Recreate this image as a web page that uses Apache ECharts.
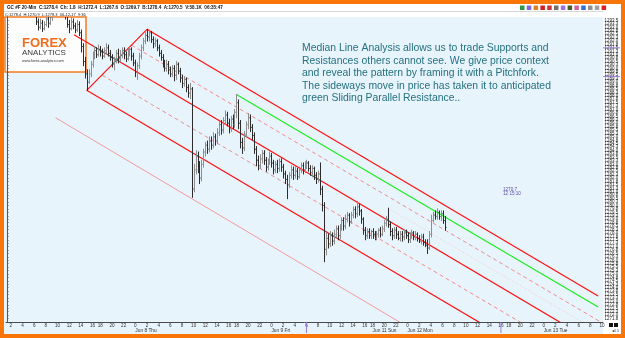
<!DOCTYPE html>
<html>
<head>
<meta charset="utf-8">
<script src="https://cdn.jsdelivr.net/npm/echarts@6/dist/echarts.min.js"></script>
<style>
html, body { margin: 0; padding: 0; background: #fff; }
#chart { width: 625px; height: 338px; }
</style>
</head>
<body>
<div id="chart"></div>
<script>
// 20-min sessions, weekend skipped
const sessions = [
  ['2017-06-07 01:20', '2017-06-07 17:00'],
  ['2017-06-07 18:00', '2017-06-08 17:00'],
  ['2017-06-08 18:00', '2017-06-09 17:00'],
  ['2017-06-11 18:00', '2017-06-12 17:00'],
  ['2017-06-12 18:00', '2017-06-13 10:00']
]
const dateLabels = {
  '06-08 00:00': 'Jun 8 Thu',
  '06-09 00:00': 'Jun 9 Fri',
  '06-11 18:00': 'Jun 11 Sun',
  '06-12 00:00': 'Jun 12 Mon',
  '06-13 00:00': 'Jun 13 Tue'
}

// [open, close, low, high]
const ohlc = [
  [1294.6,1294.9,1294.3,1295.1],[1294.9,1295.2,1294.7,1295.4],[1295.2,1294.8,1294.6,1295.3],[1294.8,1294.5,1294.3,1295.0],[1294.5,1294.7,1294.2,1294.9],
  [1294.7,1295.1,1294.6,1295.3],[1295.1,1295.4,1294.9,1295.6],[1295.4,1295.0,1294.8,1295.6],[1295.0,1294.6,1294.4,1295.1],[1294.6,1294.8,1294.4,1295.0],
  [1294.8,1294.5,1294.2,1294.9],[1294.5,1294.2,1294.0,1294.7],[1294.2,1294.4,1294.0,1294.6],[1294.4,1294.1,1293.9,1294.5],[1294.1,1293.9,1293.8,1294.3],
  [1293.9,1293.4,1293.2,1294.1],[1293.4,1293.0,1292.8,1293.6],[1293.0,1293.3,1292.9,1293.6],[1293.3,1292.9,1292.7,1293.5],[1292.9,1293.2,1292.8,1293.4],
  [1293.2,1293.6,1293.1,1293.9],[1293.6,1293.3,1293.0,1293.8],[1293.3,1293.7,1293.2,1294.0],[1293.7,1294.1,1293.5,1294.3],[1294.1,1294.4,1293.9,1294.6],
  [1294.4,1294.2,1294.0,1294.7],[1294.2,1294.5,1294.0,1294.8],[1294.5,1294.3,1294.1,1294.7],[1294.3,1294.0,1293.9,1294.5],[1294.0,1294.2,1293.85,1294.4],
  [1294.2,1293.8,1293.6,1294.3],[1293.8,1293.2,1293.0,1294.0],[1293.2,1292.9,1292.6,1293.5],[1292.9,1293.4,1292.8,1293.7],[1293.4,1293.1,1292.9,1293.6],
  [1293.1,1292.8,1292.6,1293.3],[1292.8,1293.2,1292.7,1293.5],[1293.2,1292.6,1292.4,1293.4],[1292.6,1291.6,1291.2,1292.8],[1291.6,1290.5,1290.2,1291.8],
  [1290.5,1289.6,1289.3,1290.8],[1289.6,1289.0,1288.4,1289.9],[1289.0,1289.6,1288.9,1289.9],[1289.6,1290.3,1289.4,1290.5],[1290.3,1290.9,1290.1,1291.2],
  [1290.9,1291.3,1290.7,1291.6],[1291.3,1291.0,1290.8,1291.5],[1291.0,1291.4,1290.9,1291.7],[1291.4,1291.2,1290.9,1291.6],[1291.2,1290.9,1290.7,1291.4],
  [1290.9,1291.3,1290.8,1291.5],[1291.3,1291.5,1291.1,1291.8],[1291.5,1291.1,1290.9,1291.7],[1291.1,1290.8,1290.6,1291.3],[1290.8,1290.3,1290.1,1291.0],
  [1290.3,1290.6,1289.9,1290.8],[1290.6,1291.1,1290.4,1291.3],[1291.1,1290.7,1290.4,1291.4],[1290.7,1291.0,1290.5,1291.3],[1291.0,1291.3,1290.8,1291.5],
  [1291.3,1291.0,1290.7,1291.5],[1291.0,1290.7,1290.5,1291.2],[1290.7,1291.1,1290.6,1291.4],[1291.1,1291.4,1290.9,1291.6],[1291.4,1290.9,1290.6,1291.5],
  [1290.9,1290.4,1290.2,1291.1],[1290.4,1289.7,1289.4,1290.6],[1289.7,1290.2,1289.2,1290.4],[1290.2,1290.9,1290.0,1291.1],[1290.9,1291.5,1290.7,1291.7],
  [1291.5,1292.0,1291.3,1292.2],[1292.0,1292.4,1291.8,1292.6],[1292.4,1292.3,1292.0,1292.85],[1292.3,1292.6,1292.0,1292.8],[1292.6,1292.1,1291.9,1292.7],
  [1292.1,1291.8,1291.5,1292.3],[1291.8,1292.0,1291.6,1292.2],[1292.0,1291.5,1291.3,1292.1],[1291.5,1291.1,1290.9,1291.7],[1291.1,1290.8,1290.6,1291.3],
  [1290.8,1290.4,1290.1,1291.0],[1290.4,1290.0,1289.8,1290.6],[1290.0,1290.3,1289.8,1290.6],[1290.3,1289.9,1289.6,1290.5],[1289.9,1289.6,1289.4,1290.1],
  [1289.6,1290.0,1289.4,1290.2],[1290.0,1289.5,1289.1,1290.2],[1289.5,1290.3,1289.2,1290.5],[1290.3,1289.8,1289.6,1290.4],[1289.8,1289.3,1289.0,1290.0],
  [1289.3,1288.9,1288.6,1289.5],[1288.9,1289.2,1288.7,1289.4],[1289.2,1288.6,1288.3,1289.3],[1288.6,1288.2,1287.9,1288.8],[1288.2,1288.5,1287.8,1288.9],
  [1288.5,1281.2,1280.6,1288.6],[1281.2,1282.6,1281.0,1283.0],[1282.6,1283.6,1282.3,1284.0],[1283.6,1282.9,1282.4,1283.9],[1282.9,1282.0,1281.6,1283.2],
  [1282.0,1283.0,1281.8,1283.3],[1283.0,1283.9,1282.8,1284.1],[1283.9,1284.4,1283.6,1284.6],[1284.4,1284.1,1283.8,1284.7],[1284.1,1284.7,1283.9,1285.0],
  [1284.7,1284.4,1284.1,1285.0],[1284.4,1285.0,1284.2,1285.3],[1285.0,1284.7,1284.4,1285.2],[1284.7,1285.3,1284.5,1285.6],[1285.3,1285.9,1285.1,1286.1],
  [1285.9,1285.5,1285.2,1286.2],[1285.5,1286.2,1285.3,1286.4],[1286.2,1286.6,1285.9,1286.9],[1286.6,1286.0,1285.8,1286.8],[1286.0,1285.6,1285.3,1286.3],
  [1285.6,1286.3,1285.4,1286.5],[1286.3,1285.9,1285.6,1286.6],[1285.9,1286.8,1285.7,1287.0],[1286.8,1287.5,1286.4,1288.1],[1287.5,1286.0,1285.6,1287.7],
  [1286.0,1284.6,1284.2,1286.2],[1284.6,1284.2,1283.8,1284.9],[1284.2,1285.2,1284.0,1285.4],[1285.2,1285.9,1285.0,1286.1],[1285.9,1286.4,1285.6,1286.7],
  [1286.4,1285.7,1285.4,1286.6],[1285.7,1285.1,1284.8,1285.9],[1285.1,1284.1,1283.8,1285.3],[1284.1,1283.3,1282.9,1284.3],[1283.3,1282.9,1282.6,1283.6],
  [1282.9,1283.4,1282.7,1283.7],[1283.4,1283.8,1283.1,1284.0],[1283.8,1283.3,1283.0,1284.0],[1283.3,1282.8,1282.5,1283.5],[1282.8,1283.2,1282.6,1283.4],
  [1283.2,1283.6,1283.0,1283.9],[1283.6,1283.1,1282.8,1283.8],[1283.1,1282.6,1282.3,1283.3],[1282.6,1283.0,1282.4,1283.2],[1283.0,1282.7,1282.4,1283.3],
  [1282.7,1283.2,1282.5,1283.4],[1283.2,1282.8,1282.5,1283.4],[1282.8,1282.3,1282.0,1283.0],[1282.3,1281.9,1281.6,1282.5],[1281.9,1281.5,1280.5,1282.2],
  [1281.5,1282.2,1281.3,1282.4],[1282.2,1282.6,1282.0,1282.9],[1282.6,1282.2,1281.9,1282.8],[1282.2,1282.5,1282.0,1282.8],[1282.5,1282.1,1281.9,1282.7],
  [1282.1,1282.6,1282.0,1282.8],[1282.6,1282.9,1282.4,1283.1],[1282.9,1282.6,1282.3,1283.1],[1282.6,1282.9,1282.4,1283.2],[1282.9,1283.1,1282.7,1283.3],
  [1283.1,1282.7,1282.5,1283.2],[1282.7,1282.4,1282.2,1282.9],[1282.4,1282.7,1282.1,1282.9],[1282.7,1282.2,1281.9,1282.8],[1282.2,1281.9,1281.6,1282.4],
  [1281.9,1282.3,1281.7,1282.5],[1282.3,1281.2,1280.8,1283.1],[1281.2,1280.0,1279.6,1281.4],[1280.0,1276.8,1275.9,1280.2],[1276.8,1277.6,1276.4,1278.0],
  [1277.6,1277.2,1276.9,1277.9],[1277.2,1277.8,1277.0,1278.1],[1277.8,1277.4,1277.1,1278.0],[1277.4,1277.9,1277.2,1278.2],[1277.9,1278.3,1277.7,1278.5],
  [1278.3,1277.8,1277.5,1278.5],[1277.8,1278.4,1277.6,1278.6],[1278.4,1278.9,1278.2,1279.1],[1278.9,1278.5,1278.2,1279.1],[1278.5,1279.0,1278.3,1279.3],
  [1279.0,1279.3,1278.8,1279.5],[1279.3,1278.8,1278.5,1279.4],[1278.8,1279.3,1278.7,1279.5],[1279.3,1279.7,1279.1,1279.9],[1279.7,1279.4,1279.1,1279.9],
  [1279.4,1279.9,1279.2,1280.3],[1279.9,1279.6,1279.3,1280.1],[1279.6,1279.0,1278.7,1279.7],[1279.0,1278.2,1277.9,1279.1],[1278.2,1277.8,1277.5,1278.4],
  [1277.8,1278.1,1277.6,1278.3],[1278.1,1277.8,1277.6,1278.3],[1277.8,1278.1,1277.6,1278.2],[1278.1,1277.9,1277.6,1278.3],[1277.9,1277.6,1277.5,1278.1],
  [1277.6,1277.9,1277.5,1278.1],[1277.9,1278.2,1277.7,1278.3],[1278.2,1277.9,1277.7,1278.4],[1277.9,1278.3,1277.8,1278.5],[1278.3,1278.7,1278.1,1278.9],
  [1278.7,1279.0,1278.5,1279.2],[1279.0,1278.6,1278.4,1279.8],[1278.6,1278.1,1277.8,1278.8],[1278.1,1277.8,1277.5,1278.3],[1277.8,1278.2,1277.6,1278.4],
  [1278.2,1277.9,1277.6,1278.4],[1277.9,1277.6,1277.5,1278.1],[1277.6,1277.9,1277.4,1278.1],[1277.9,1277.7,1277.4,1278.1],[1277.7,1278.0,1277.5,1278.2],
  [1278.0,1277.8,1277.6,1278.2],[1277.8,1277.5,1277.3,1278.0],[1277.5,1277.8,1277.3,1278.0],[1277.8,1278.0,1277.6,1278.2],[1278.0,1277.7,1277.5,1278.1],
  [1277.7,1277.9,1277.5,1278.1],[1277.9,1277.6,1277.4,1278.0],[1277.6,1277.4,1277.3,1277.8],[1277.4,1277.7,1277.2,1277.9],[1277.7,1277.3,1277.1,1277.9],
  [1277.3,1277.1,1277.0,1277.5],[1277.1,1276.9,1276.5,1277.5],[1276.9,1277.9,1276.8,1278.1],[1277.9,1278.9,1277.7,1279.3],[1278.9,1279.3,1278.8,1279.5],
  [1279.3,1279.2,1279.0,1279.6],[1279.2,1279.5,1279.0,1279.75],[1279.5,1279.2,1279.0,1279.6],[1279.2,1279.4,1278.9,1279.6],[1279.4,1278.9,1278.7,1279.6],
  [1278.9,1278.4,1278.2,1279.2]
]

// pitchfork drawing: [bar index, price] end points
const handleLine = [[41, 1288.4], [72, 1292.85]]
const medianLine = [[34.5, 1292.45], [286, 1271.35]]
const upperLine = [[72, 1292.85], [304, 1273.4]]
const lowerLine = [[41, 1288.4], [245, 1271.3]]
const upperQuarter = [[64, 1291.7], [306.5, 1271.4]]
const lowerQuarter = [[49, 1289.5], [265, 1271.4]]
const lowerWarning = [[25, 1286.4], [203, 1271.4]]
const slidingLine = [[196, 1279.8], [297, 1271.4]]
const greenParallel = [[118, 1288.1], [304, 1272.6]]

const priceMin = 1271.5
const priceMax = 1293.75
const priceStep = 0.25
const markTimes = ['06-09 06:00', '06-12 16:00']
const markPrices = [1291.5, 1289.4]

const noteText = 'Median Line Analysis allows us to trade Supports and\nResistances others cannot see. We give price context\nand reveal the pattern by framing it with a Pitchfork.\nThe sideways move in price has taken it to anticipated\ngreen Sliding Parallel Resistance..'

const pad = n => String(n).padStart(2, '0')
const parseTime = s => {
  const [d, t] = s.split(' ')
  const [Y, M, D] = d.split('-').map(Number)
  const [h, m] = t.split(':').map(Number)
  return Date.UTC(Y, M - 1, D, h, m)
}
const categories = []
sessions.forEach(([from, to]) => {
  for (let t = parseTime(from); t <= parseTime(to); t += 20 * 60000) {
    const d = new Date(t)
    categories.push(`${pad(d.getUTCMonth() + 1)}-${pad(d.getUTCDate())} ${pad(d.getUTCHours())}:${pad(d.getUTCMinutes())}`)
  }
})
const lastClose = ohlc[ohlc.length - 1][1]

const isHourTick = (i, v) => v.slice(9) === '00' && Number(v.slice(6, 8)) % 2 === 0
const isDateTick = (i, v) => v in dateLabels

const chart = echarts.init(document.getElementById('chart'))

const lineSeries = (data, color, type, width = 1) => ({
  type: 'line', xAxisIndex: 2, yAxisIndex: 0, data,
  symbol: 'none', silent: true, clip: true, z: 3,
  lineStyle: { color, type, width }
})

const option = {
  animation: false,
  backgroundColor: '#e7f4fc',
  textStyle: { fontFamily: 'Liberation Sans' },
  grid: { left: 6, right: 22, top: 17, bottom: 16 },
  xAxis: [
    {
      type: 'category', data: categories, z: 10,
      axisLine: { lineStyle: { color: '#4a4a4a', width: 1 } },
      axisTick: { interval: isHourTick, alignWithLabel: true, length: 2, lineStyle: { color: '#4a4a4a' } },
      axisLabel: { interval: isHourTick, formatter: v => String(Number(v.slice(6, 8))), fontSize: 4.6, color: '#333', margin: 1.5 },
      splitLine: { show: false }
    },
    {
      type: 'category', data: categories, position: 'bottom', z: 10,
      axisLine: { show: false }, axisTick: { show: false },
      axisLabel: { interval: isDateTick, formatter: v => dateLabels[v], align: 'left', fontSize: 4.8, color: '#333', margin: 6 }
    },
    { type: 'value', min: -0.5, max: categories.length - 0.5, show: false }
  ],
  yAxis: {
    type: 'value', position: 'right', min: priceMin, max: priceMax, interval: priceStep, z: 10,
    axisLine: { show: true, lineStyle: { color: '#555' } },
    axisTick: { show: true, length: 1.5, lineStyle: { color: '#555' } },
    axisLabel: { fontSize: 4.5, color: '#222', margin: 1.5, formatter: v => v.toFixed(1) },
    splitLine: { show: false }
  },
  series: [
    {
      type: 'custom', name: 'GC #F', xAxisIndex: 0, yAxisIndex: 0, z: 4,
      data: ohlc.map((b, i) => [i, b[0], b[1], b[2], b[3]]),
      encode: { x: 0, y: [1, 2, 3, 4] },
      clip: true,
      renderItem: (params, api) => {
        const i = api.value(0)
        const o = api.coord([i, api.value(1)])
        const c = api.coord([i, api.value(2)])
        const l = api.coord([i, api.value(3)])
        const h = api.coord([i, api.value(4)])
        const x = Math.round(o[0]) + 0.5
        const stroke = api.value(2) >= api.value(1) ? '#8e8e8e' : '#2c2c2c'
        const style = { stroke, lineWidth: 1 }
        return {
          type: 'group',
          children: [
            { type: 'line', shape: { x1: x, y1: h[1] - 0.5, x2: x, y2: l[1] + 0.5 }, style },
            { type: 'line', shape: { x1: x - 1, y1: o[1], x2: x, y2: o[1] }, style },
            { type: 'line', shape: { x1: x, y1: c[1], x2: x + 1, y2: c[1] }, style }
          ]
        }
      },
      markLine: {
        silent: true, symbol: 'none', animation: false,
        lineStyle: { opacity: 0 },
        label: {
          position: 'end', distance: -3,
          formatter: '{a|◀}{b|' + lastClose.toFixed(1) + '}',
          rich: {
            a: { color: '#000', fontSize: 4 },
            b: { color: '#fff', backgroundColor: '#000', fontSize: 4.6, padding: [1, 1, 0, 1] }
          }
        },
        data: [{ yAxis: lastClose }]
      }
    },
    lineSeries(lowerWarning, '#f29a9a', 'solid'),
    lineSeries(lowerQuarter, '#f28a8a', [4, 3]),
    lineSeries(upperQuarter, '#f28a8a', [4, 3]),
    lineSeries(slidingLine, '#f4c4c4', [1, 2]),
    lineSeries(handleLine, '#ff1010', 'solid', 1.2),
    lineSeries(medianLine, '#ff1010', 'solid', 1.2),
    lineSeries(upperLine, '#ff1010', 'solid', 1.2),
    lineSeries(lowerLine, '#ff1010', 'solid', 1.2),
    lineSeries(greenParallel, '#1eec1e', 'solid', 1.2),
    {
      type: 'custom', xAxisIndex: 0, yAxisIndex: 0, clip: false, silent: true, z: 11,
      data: markTimes.map(t => [categories.indexOf(t), priceMin]),
      renderItem: (params, api) => {
        const p = api.coord([api.value(0), api.value(1)])
        return { type: 'line', shape: { x1: p[0], y1: p[1], x2: p[0], y2: p[1] + 11 }, style: { stroke: '#9a7ad8', lineWidth: 1 } }
      }
    },
    {
      type: 'custom', xAxisIndex: 0, yAxisIndex: 0, clip: false, silent: true, z: 11,
      data: markPrices.map(p => [0, p]),
      renderItem: (params, api) => {
        const p = api.coord([api.value(0), api.value(1)])
        const r = params.coordSys.x + params.coordSys.width
        return { type: 'line', shape: { x1: r, y1: p[1], x2: r + 17, y2: p[1] }, style: { stroke: '#9a7ad8', lineWidth: 1 } }
      }
    }
  ],
  graphic: [
    // white title bar and price column
    { type: 'rect', z: 0, silent: true, shape: { x: 4, y: 4, width: 617, height: 13 }, style: { fill: '#fff' } },
    { type: 'line', z: 0, silent: true, shape: { x1: 4, y1: 11.5, x2: 621, y2: 11.5 }, style: { stroke: '#d8d8d8', lineWidth: 1 } },
    { type: 'rect', z: 0, silent: true, shape: { x: 603, y: 4, width: 18, height: 330 }, style: { fill: '#fff' } },
    { type: 'text', z: 20, silent: true, style: { text: 'GC #F 20-Min  C:1278.4  Ch: 1.8  H:1272.4  L:1267.6  O:1269.7  B:1278.4  A:1270.5  V:58.1K  06:35:47', x: 7, y: 8, font: 'bold 4.6px Liberation Sans', fill: '#111', verticalAlign: 'middle', textVerticalAlign: 'middle' } },
    { type: 'text', z: 20, silent: true, style: { text: 'C:1278.4  H:1270.9  L:1278.3  06-12-17  9:36', x: 5, y: 14.5, font: '4px Liberation Sans', fill: '#222', verticalAlign: 'middle', textVerticalAlign: 'middle' } },
    // toolbar icons
    ...['#2a9a4a', '#7a6ae0', '#e08020', '#d02020', '#d03030', '#707070', '#a070e0', '#406030', '#d060a0', '#3070d0', '#909090', '#a0a0a0', '#e02020'].map((c, k) => ({
      type: 'rect', z: 20, silent: true, shape: { x: 520 + k * 6.8, y: 5.5, width: 4.5, height: 4.5 }, style: { fill: c }
    })),
    // logo
    { type: 'rect', z: 1, silent: true, shape: { x: 5, y: 17, width: 81, height: 55 }, style: { fill: '#fdfdfd', stroke: '#f47a20', lineWidth: 1.5 } },
    { type: 'text', z: 1, silent: true, style: { text: 'FOREX', x: 22, y: 43, font: 'bold 13px Liberation Sans', fill: '#f26c1c', verticalAlign: 'middle', textVerticalAlign: 'middle' } },
    { type: 'text', z: 1, silent: true, style: { text: 'ANALYTICS', x: 22, y: 52.5, font: '8px Liberation Sans', fill: '#3a3a3a', verticalAlign: 'middle', textVerticalAlign: 'middle' } },
    { type: 'text', z: 1, silent: true, style: { text: 'www.forex-analytics.com', x: 22, y: 60.5, font: '3.8px Liberation Sans', fill: '#333', verticalAlign: 'middle', textVerticalAlign: 'middle' } },
    // annotation
    { type: 'text', z: 20, silent: true, style: { text: noteText, x: 302, y: 42, font: '10.4px Liberation Sans', lineHeight: 12.5, fill: '#24707e', verticalAlign: 'top', textVerticalAlign: 'top' } },
    { type: 'text', z: 20, silent: true, style: { text: '1270.7\n12 15:10', x: 503, y: 187, font: '4.6px Liberation Sans', lineHeight: 4.6, fill: '#5a4aa8', verticalAlign: 'top', textVerticalAlign: 'top' } },
    // bottom-right buttons
    { type: 'rect', z: 20, silent: true, shape: { x: 609, y: 323, width: 4, height: 4 }, style: { fill: '#111' } },
    { type: 'rect', z: 20, silent: true, shape: { x: 614, y: 323, width: 4, height: 4 }, style: { fill: '#111' } },
    { type: 'text', z: 20, silent: true, style: { text: '◂0.5', x: 612, y: 330.5, font: '3.6px Liberation Sans', fill: '#333', verticalAlign: 'middle', textVerticalAlign: 'middle' } },
    // orange frame
    { type: 'rect', z: 30, silent: true, shape: { x: 0, y: 0, width: 625, height: 4 }, style: { fill: '#f97508' } },
    { type: 'rect', z: 30, silent: true, shape: { x: 0, y: 334, width: 625, height: 4 }, style: { fill: '#f97508' } },
    { type: 'rect', z: 30, silent: true, shape: { x: 0, y: 0, width: 4, height: 338 }, style: { fill: '#f97508' } },
    { type: 'rect', z: 30, silent: true, shape: { x: 621, y: 0, width: 4, height: 338 }, style: { fill: '#f97508' } }
  ]
}

chart.setOption(option)
window.addEventListener('resize', () => chart.resize())
</script>
</body>
</html>
